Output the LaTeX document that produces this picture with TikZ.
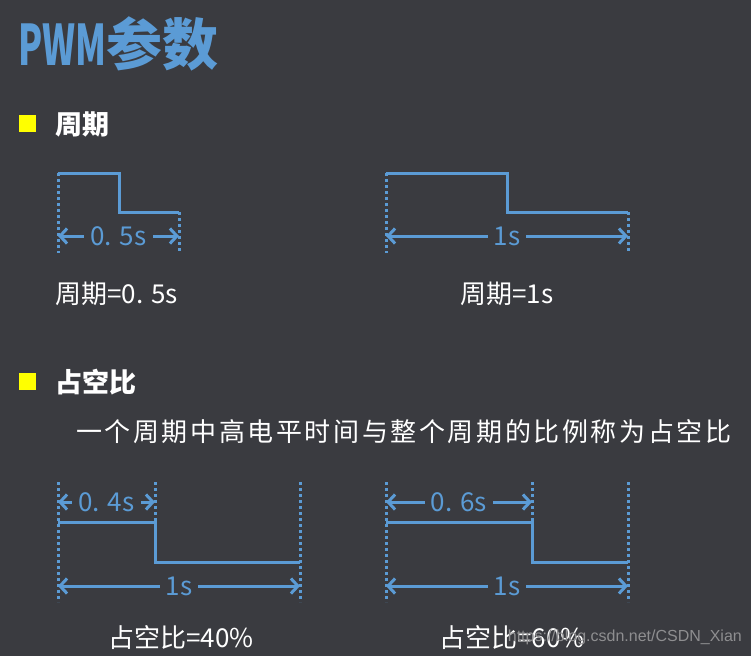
\documentclass[tikz,border=0pt]{standalone}
\usepackage{fontspec}
\setmainfont{Noto Sans CJK SC}
\newfontfamily\urlfont{Liberation Sans}
\usetikzlibrary{arrows.meta}

\definecolor{bg}{HTML}{3A3B40}
\definecolor{wblue}{HTML}{5B9BD5}
\definecolor{hiyellow}{HTML}{FFFF00}
\definecolor{wmgray}{HTML}{8E8E90}

\begin{document}
\begin{tikzpicture}[
    x=1pt, y=-1pt,
    >={Straight Barb[length=7pt,width=15pt]},
    wave/.style={wblue, line width=3pt, line join=miter},
    guide/.style={wblue, line width=3pt, dash pattern=on 3pt off 3pt},
    dim/.style={wblue, line width=3pt, <->},
    lbl/.style={fill=bg, text=wblue, font=\fontsize{26}{28}\selectfont, inner xsep=6pt, inner ysep=0pt},
    note/.style={text=white, font=\fontsize{26}{28}\selectfont, inner sep=0pt},
    head/.style={text=white, font=\fontsize{27}{29}\selectfont\bfseries, inner sep=0pt, anchor=west},
    bullet/.style={fill=hiyellow, minimum size=17pt, inner sep=0pt}
]

\fill[bg] (0,0) rectangle (751,656);

\node[anchor=west, text=wblue, inner sep=0pt, font=\fontsize{56}{58}\selectfont\bfseries] (title) at (18,44) {\scalebox{0.63}[1]{PWM}参数};

\node[bullet] (b1) at (27.5,123.5) {};
\node[head] (h1) at (55,124) {周期};

\node[bullet] (b2) at (27.5,381.5) {};
\node[head] (h2) at (55,382) {占空比};

\node[anchor=west, text=white, inner sep=0pt, font=\fontsize{26}{28}\selectfont\addfontfeature{LetterSpace=10}] (defn) at (76,432) {一个周期中高电平时间与整个周期的比例称为占空比};

% period = 0.5s
\coordinate (a0) at (58,173);
\coordinate (a1) at (119,173);
\coordinate (a2) at (119,212);
\coordinate (a3) at (179,212);
\coordinate (a0b) at (58,253);
\coordinate (a3b) at (179,253);
\draw[guide] (a0) -- (a0b);
\draw[guide] (a3) -- (a3b);
\draw[wave] (a0) -- (a1) -- (a2) -- (a3);
\coordinate (a0m) at (58,236);
\coordinate (a3m) at (179,236);
\draw[dim] (a0m) -- node[lbl] (alen) {0. 5s} (a3m);
\node[note, anchor=west] (anote) at (55,294) {周期=0. 5s};

% period = 1s
\coordinate (c0) at (386,173);
\coordinate (c1) at (507,173);
\coordinate (c2) at (507,212);
\coordinate (c3) at (628,212);
\coordinate (c0b) at (386,253);
\coordinate (c3b) at (628,253);
\draw[guide] (c0) -- (c0b);
\draw[guide] (c3) -- (c3b);
\draw[wave] (c0) -- (c1) -- (c2) -- (c3);
\coordinate (c0m) at (386,236);
\coordinate (c3m) at (628,236);
\draw[dim] (c0m) -- node[lbl] (clen) {1s} (c3m);
\node[note] (cnote) at (507,294) {周期=1s};

% duty 40%
\coordinate (d0t) at (58,482);
\coordinate (d1t) at (155,482);
\coordinate (d3t) at (300,482);
\coordinate (d0) at (58,522);
\coordinate (d1) at (155,522);
\coordinate (d2) at (155,562);
\coordinate (d3) at (300,562);
\coordinate (d0b) at (58,602);
\coordinate (d3b) at (300,602);
\draw[guide] (d0t) -- (d0b);
\draw[guide] (d1t) -- (d1);
\draw[guide] (d3t) -- (d3b);
\draw[wave] (d0) -- (d1) -- (d2) -- (d3);
\coordinate (d0u) at (58,502);
\coordinate (d1u) at (155,502);
\coordinate (d0m) at (58,586);
\coordinate (d3m) at (300,586);
\draw[dim] (d0u) -- node[lbl] (dhigh) {0. 4s} (d1u);
\draw[dim] (d0m) -- node[lbl] (dlen) {1s} (d3m);
\node[note] (dnote) at (181,638) {占空比=40\%};

% duty 60%
\coordinate (e0t) at (386,482);
\coordinate (e1t) at (532,482);
\coordinate (e3t) at (628,482);
\coordinate (e0) at (386,522);
\coordinate (e1) at (532,522);
\coordinate (e2) at (532,562);
\coordinate (e3) at (628,562);
\coordinate (e0b) at (386,602);
\coordinate (e3b) at (628,602);
\draw[guide] (e0t) -- (e0b);
\draw[guide] (e1t) -- (e1);
\draw[guide] (e3t) -- (e3b);
\draw[wave] (e0) -- (e1) -- (e2) -- (e3);
\coordinate (e0u) at (386,502);
\coordinate (e1u) at (532,502);
\coordinate (e0m) at (386,586);
\coordinate (e3m) at (628,586);
\draw[dim] (e0u) -- node[lbl] (ehigh) {0. 6s} (e1u);
\draw[dim] (e0m) -- node[lbl] (elen) {1s} (e3m);
\node[note] (enote) at (512,638) {占空比=60\%};

\node[anchor=east, text=wmgray, inner sep=0pt, font=\urlfont\fontsize{16}{18}\selectfont] (wmark) at (742,637) {https://blog.csdn.net/CSDN\_Xian};

\end{tikzpicture}
\end{document}
